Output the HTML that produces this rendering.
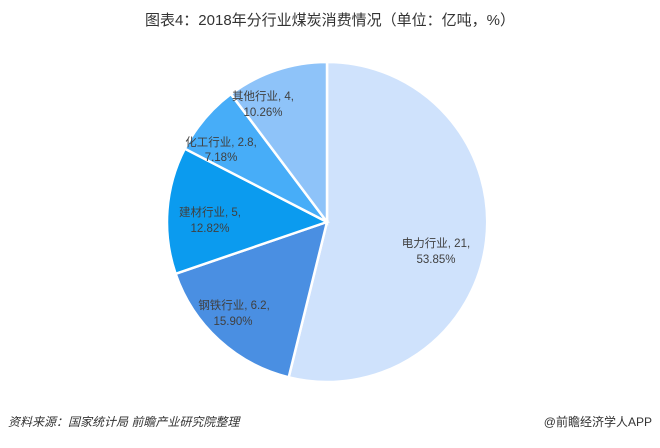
<!DOCTYPE html>
<html><head><meta charset="utf-8"><style>
body{margin:0;width:660px;height:443px;background:#fff;overflow:hidden;font-family:"Liberation Sans","Noto Sans CJK SC",sans-serif}
</style></head><body>
<svg width="660" height="443" xmlns="http://www.w3.org/2000/svg" font-family="Liberation Sans, Noto Sans CJK SC, sans-serif">
<text x="330" y="25" text-anchor="middle" font-size="15" fill="#333">图表4：2018年分行业煤炭消费情况（单位：亿吨，%）</text>
<g stroke="#fff" stroke-width="2.5">
<path d="M327,222 L327,62 A160,160 0 1 1 288.7,377.3 Z" fill="#cfe2fc"/>
<path d="M327,222 L288.7,377.3 A160,160 0 0 1 175.6,273.8 Z" fill="#4a8fe2"/>
<path d="M327,222 L175.6,273.8 A160,160 0 0 1 184.8,148.7 Z" fill="#0b9bef"/>
<path d="M327,222 L184.8,148.7 A160,160 0 0 1 230.9,94 Z" fill="#47adf8"/>
<path d="M327,222 L230.9,94 A160,160 0 0 1 327,62 Z" fill="#8ec3f9"/>
</g>
<g font-size="11.5" fill="#404040" text-anchor="middle">
<text x="436" y="247">电力行业, 21,</text><text x="436" y="263">53.85%</text>
<text x="234" y="309">钢铁行业, 6.2,</text><text x="233" y="325">15.90%</text>
<text x="210" y="216">建材行业, 5,</text><text x="210" y="232">12.82%</text>
<text x="221" y="146">化工行业, 2.8,</text><text x="221" y="161">7.18%</text>
<text x="263" y="100">其他行业, 4,</text><text x="263" y="116">10.26%</text>
</g>
<text x="8" y="426" font-size="12" font-style="italic" fill="#333">资料来源：国家统计局 前瞻产业研究院整理</text>
<text x="652" y="426" font-size="12" text-anchor="end" fill="#333">@前瞻经济学人APP</text>
</svg>
</body></html>
